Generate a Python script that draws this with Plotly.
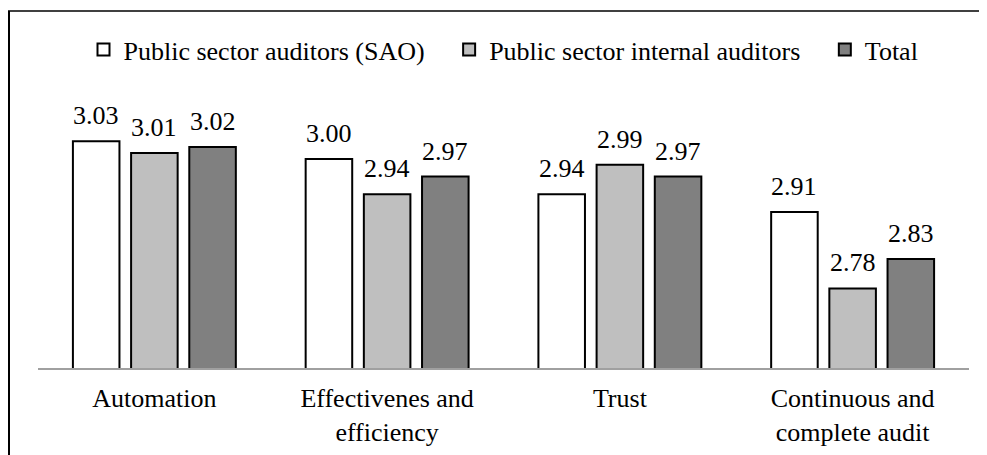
import plotly.graph_objects as go

categories = ["Automation", "Effectivenes and<br>efficiency", "Trust", "Continuous and<br>complete audit"]
series_names = ["Public sector auditors (SAO)", "Public sector internal auditors", "Total"]
sao_values = [3.03, 3.00, 2.94, 2.91]
internal_values = [3.01, 2.94, 2.99, 2.78]
total_values = [3.02, 2.97, 2.97, 2.83]

colors = ["#FFFFFF", "#BFBFBF", "#808080"]
FONT = "Liberation Serif"
PAD = "\u00a0" * 3  # extra spacing between legend entries

# page body has an 8px margin; figure size chosen so the page fills 987x455
OFF = 8
W, H = 987 - OFF, 455 - OFF
ML, MR, MT, MB = 38 - OFF, 18, 100 - OFF, 87
PW, PH = W - ML - MR, H - MT - MB
BARGAP = 0.25

fig = go.Figure()
all_vals = [sao_values, internal_values, total_values]
for k, (name, vals, col) in enumerate(zip(series_names, all_vals, colors)):
    fig.add_trace(go.Bar(
        x=categories, y=vals, name=name + (PAD if k < len(series_names) - 1 else ""),
        marker=dict(color=col, line=dict(color="black", width=2)),
    ))

slot = PW / len(categories) * (1 - BARGAP) / len(series_names)
annotations = []
for i, vals in enumerate(all_vals):
    for c, v in zip(categories, vals):
        annotations.append(dict(
            x=c, y=v, xref="x", yref="y", text=f"{v:.2f}", showarrow=False,
            xanchor="center", yanchor="bottom", xshift=(i - 1) * slot, yshift=9,
            font=dict(size=26, family=FONT, color="black"),
        ))

def px_x(p):
    return (p - OFF - ML) / PW

def px_y(p):
    return (H - MB - (p - OFF)) / PH

shapes = [
    dict(type="line", xref="paper", yref="paper", x0=px_x(8), x1=px_x(1100), y0=px_y(11), y1=px_y(11),
         line=dict(color="black", width=1.5)),
    dict(type="line", xref="paper", yref="paper", x0=px_x(9), x1=px_x(9), y0=px_y(11), y1=px_y(600),
         line=dict(color="black", width=2)),
]

fig.update_layout(
    width=W, height=H,
    margin=dict(l=ML, r=MR, t=MT, b=MB, autoexpand=False),
    paper_bgcolor="white", plot_bgcolor="white",
    font=dict(family=FONT, size=26, color="black"),
    barmode="group", bargap=BARGAP, bargroupgap=0.2,
    showlegend=True,
    legend=dict(orientation="h", x=0.5, xanchor="center", y=px_y(26), yanchor="top",
                font=dict(size=26, family=FONT, color="black"),
                itemwidth=30, traceorder="normal", bgcolor="rgba(0,0,0,0)"),
    xaxis=dict(showline=True, linecolor="#A0A0A0", linewidth=1.5, ticks="", showgrid=False,
               ticklabelstandoff=6,
               tickfont=dict(size=26, family=FONT, color="black"), range=[-0.5, 3.5]),
    yaxis=dict(range=[2.645, 3.1], visible=False, showgrid=False, zeroline=False),
    shapes=shapes,
    annotations=annotations,
)

fig.write_html("out.html")
